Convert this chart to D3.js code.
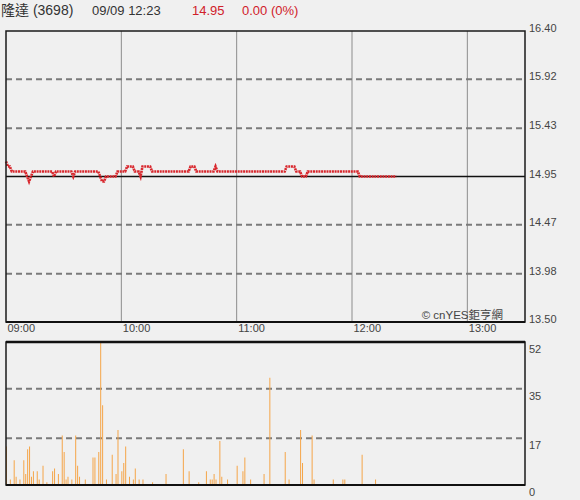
<!DOCTYPE html>
<html>
<head>
<meta charset="utf-8">
<script src="https://cdn.jsdelivr.net/npm/d3@7"></script>
<style>
  html, body { margin: 0; padding: 0; background: #f0f0f0; }
  svg { display: block; }
  text { font-family: "Liberation Sans", Arial, "Noto Sans CJK TC", sans-serif; }
</style>
</head>
<body>
<svg id="chart" width="580" height="500"></svg>
<script>
// ---- Data ----
const stockName = "隆達 (3698)";
const stamp = "09/09 12:23";
const lastPrice = "14.95";
const change = "0.00 (0%)";
const prevClose = 14.95;

const priceTicks = [16.40, 15.92, 15.43, 14.95, 14.47, 13.98, 13.50];
const volumeTicks = [52, 35, 17, 0];
const timeLabels = ["09:00", "10:00", "11:00", "12:00", "13:00"];
const timeLabelMinutes = [0, 60, 120, 180, 240];

// price per minute from 09:00 (minute 0) to 12:23 (minute 203)
const prices = [
  15.10, 15.05, 15.05, 15.00, 15.00, 15.00, 15.00, 15.00, 15.00, 15.00,
  15.00, 14.95, 14.90, 14.95, 15.00, 15.00, 15.00, 15.00, 15.00, 15.00,
  15.00, 15.00, 15.00, 15.00, 15.00, 14.95, 15.00, 15.00, 15.00, 15.00,
  15.00, 15.00, 15.00, 15.00, 15.00, 14.95, 15.00, 15.00, 15.00, 15.00,
  15.00, 15.00, 15.00, 15.00, 15.00, 15.00, 15.00, 15.00, 15.00, 14.95,
  14.90, 14.90, 14.95, 14.95, 14.95, 14.95, 14.95, 14.95, 15.00, 15.00,
  15.00, 15.00, 15.00, 15.05, 15.05, 15.05, 15.05, 15.00, 15.00, 15.00,
  14.95, 15.05, 15.05, 15.05, 15.05, 15.05, 15.00, 15.00, 15.00, 15.00,
  15.00, 15.00, 15.00, 15.00, 15.00, 15.00, 15.00, 15.00, 15.00, 15.00,
  15.00, 15.00, 15.00, 15.00, 15.00, 15.00, 15.05, 15.05, 15.05, 15.00,
  15.00, 15.00, 15.00, 15.00, 15.00, 15.00, 15.00, 15.00, 15.00, 15.05,
  15.00, 15.00, 15.00, 15.00, 15.00, 15.00, 15.00, 15.00, 15.00, 15.00,
  15.00, 15.00, 15.00, 15.00, 15.00, 15.00, 15.00, 15.00, 15.00, 15.00,
  15.00, 15.00, 15.00, 15.00, 15.00, 15.00, 15.00, 15.00, 15.00, 15.00,
  15.00, 15.00, 15.00, 15.00, 15.00, 15.00, 15.05, 15.05, 15.05, 15.05,
  15.05, 15.00, 15.00, 15.00, 14.95, 14.95, 14.95, 15.00, 15.00, 15.00,
  15.00, 15.00, 15.00, 15.00, 15.00, 15.00, 15.00, 15.00, 15.00, 15.00,
  15.00, 15.00, 15.00, 15.00, 15.00, 15.00, 15.00, 15.00, 15.00, 15.00,
  15.00, 15.00, 15.00, 15.00, 14.95, 14.95, 14.95, 14.95, 14.95, 14.95,
  14.95, 14.95, 14.95, 14.95, 14.95, 14.95, 14.95, 14.95, 14.95, 14.95,
  14.95, 14.95, 14.95, 14.95
];

// volume bars: minute index and lots
const volMinutes = [0, 2, 4, 5, 7, 9, 10, 11, 12, 13, 14, 16, 17, 19, 21, 24, 25, 27, 29, 30,
  31, 32, 34, 36, 37, 38, 41, 45, 46, 48, 49, 50, 52, 55, 57, 58, 60, 61, 62, 64,
  66, 67, 69, 71, 76, 83, 92, 95, 100, 104, 106, 107, 108, 109, 111, 112, 115, 120, 123, 124,
  127, 134, 137, 145, 147, 153, 154, 159, 160, 170, 175, 176, 185, 192];
const volValues = [14, 2, 9, 3, 2, 9, 4, 13, 14, 3, 5, 5, 2, 7, 1, 5, 6, 4, 18, 12,
  2, 3, 2, 18, 7, 3, 2, 10, 10, 12, 52, 29, 2, 11, 4, 20, 5, 8, 14, 3,
  2, 6, 2, 2, 1, 4, 13, 5, 1, 5, 2, 2, 4, 2, 16, 3, 2, 7, 5, 10,
  2, 4, 39, 12, 2, 20, 8, 18, 2, 2, 2, 2, 11, 2];

// ---- Layout ----
const svg = d3.select("#chart");
const L = 6, R = 525;
const pTop = 31, pBot = 322;
const vTop = 342, vBot = 485;

const x = d3.scaleLinear().domain([0, 270]).range([L, R]);
const yP = d3.scaleLinear().domain([13.50, 16.40]).range([pBot, pTop]);
const yV = d3.scaleLinear().domain([0, 52]).range([vBot, vTop]);

// ---- Header ----
const hdr = svg.append("g");
hdr.append("text").attr("x", 1).attr("y", 15).attr("font-size", 14).attr("fill", "#333").text(stockName);
hdr.append("text").attr("x", 92).attr("y", 15).attr("font-size", 13).attr("fill", "#333").text(stamp);
hdr.append("text").attr("x", 192).attr("y", 15).attr("font-size", 13).attr("fill", "#d0202a").text(lastPrice);
hdr.append("text").attr("x", 242).attr("y", 15).attr("font-size", 13).attr("fill", "#d0202a").text(change);

// ---- Price panel ----
const pg = svg.append("g");
pg.selectAll("line.vg").data(timeLabelMinutes.slice(1)).join("line")
  .attr("x1", d => x(d)).attr("x2", d => x(d))
  .attr("y1", pTop).attr("y2", pBot)
  .attr("stroke", "#8c8c8c").attr("stroke-width", 1);
pg.selectAll("line.hg").data(priceTicks.filter(d => d !== 16.40 && d !== 13.50 && d !== prevClose)).join("line")
  .attr("x1", L).attr("x2", R)
  .attr("y1", d => yP(d)).attr("y2", d => yP(d))
  .attr("stroke", "#7a7a7a").attr("stroke-width", 2).attr("stroke-dasharray", "6,4");
pg.append("line").attr("x1", L).attr("x2", R)
  .attr("y1", yP(prevClose)).attr("y2", yP(prevClose))
  .attr("stroke", "#111").attr("stroke-width", 1.5);
pg.append("text").attr("x", 503).attr("y", 319).attr("text-anchor", "end")
  .attr("font-size", 11.5).attr("fill", "#444").text("© cnYES鉅亨網");
const line = d3.line().x((d, i) => x(i)).y(d => yP(d));
pg.append("path").datum(prices).attr("d", line)
  .attr("fill", "none").attr("stroke", "#d8262c").attr("stroke-width", 2.6)
  .attr("stroke-dasharray", "2,0.7");
pg.append("rect").attr("x", L).attr("y", pTop).attr("width", R - L).attr("height", pBot - pTop)
  .attr("fill", "none").attr("stroke", "#1a1a1a").attr("stroke-width", 1.5);
pg.append("line").attr("x1", L).attr("x2", R).attr("y1", pBot).attr("y2", pBot)
  .attr("stroke", "#111").attr("stroke-width", 2);
pg.selectAll("text.pl").data(priceTicks).join("text")
  .attr("x", 529).attr("y", d => yP(d) + 1)
  .attr("font-size", 11).attr("fill", "#444").text(d => d.toFixed(2));
pg.selectAll("text.tl").data(timeLabels).join("text")
  .attr("x", (d, i) => x(timeLabelMinutes[i]) + 1.5).attr("y", 332)
  .attr("font-size", 11).attr("fill", "#444").text(d => d);

// ---- Volume panel ----
const vg = svg.append("g");
vg.selectAll("line.vdg").data(volumeTicks.filter(d => d !== 0 && d !== 52)).join("line")
  .attr("x1", L).attr("x2", R)
  .attr("y1", d => yV(d)).attr("y2", d => yV(d))
  .attr("stroke", "#7a7a7a").attr("stroke-width", 2).attr("stroke-dasharray", "6,4");
vg.selectAll("line.bar").data(volMinutes).join("line")
  .attr("x1", d => x(d) + 0.5).attr("x2", d => x(d) + 0.5)
  .attr("y1", yV(0)).attr("y2", (d, i) => yV(volValues[i]))
  .attr("stroke", "#f5a548").attr("stroke-width", 1);
vg.append("rect").attr("x", L).attr("y", vTop).attr("width", R - L).attr("height", vBot - vTop)
  .attr("fill", "none").attr("stroke", "#1a1a1a").attr("stroke-width", 1.5);
vg.append("line").attr("x1", L).attr("x2", R).attr("y1", vTop).attr("y2", vTop)
  .attr("stroke", "#111").attr("stroke-width", 2.5);
vg.append("line").attr("x1", L).attr("x2", R).attr("y1", vBot).attr("y2", vBot)
  .attr("stroke", "#111").attr("stroke-width", 2);
vg.selectAll("text.vl").data(volumeTicks).join("text")
  .attr("x", 529).attr("y", d => yV(d) + 11)
  .attr("font-size", 11).attr("fill", "#444").text(d => d);
</script>
</body>
</html>
